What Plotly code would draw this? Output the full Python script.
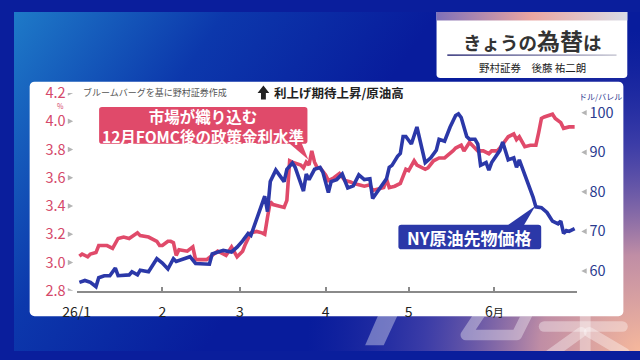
import base64
import plotly.graph_objects as go

# ---------------- data ----------------
rate_dates = [
    "2026-01-02", "2026-01-03", "2026-01-05", "2026-01-06", "2026-01-08", "2026-01-09", "2026-01-12", "2026-01-14",
    "2026-01-16", "2026-01-18", "2026-01-20", "2026-01-23", "2026-01-24", "2026-01-27", "2026-01-30", "2026-01-31",
    "2026-02-01", "2026-02-03", "2026-02-04", "2026-02-05", "2026-02-06", "2026-02-07", "2026-02-10", "2026-02-12",
    "2026-02-13", "2026-02-15", "2026-02-17", "2026-02-19", "2026-02-21", "2026-02-23", "2026-02-24", "2026-02-26",
    "2026-02-27", "2026-02-28",
    "2026-03-02", "2026-03-03", "2026-03-05", "2026-03-07", "2026-03-09", "2026-03-10", "2026-03-11", "2026-03-12",
    "2026-03-13", "2026-03-17", "2026-03-18", "2026-03-19", "2026-03-20", "2026-03-23", "2026-03-24", "2026-03-25",
    "2026-03-26", "2026-03-27", "2026-03-28", "2026-03-29", "2026-03-30",
    "2026-04-01", "2026-04-02", "2026-04-04", "2026-04-06", "2026-04-08", "2026-04-10", "2026-04-11", "2026-04-13",
    "2026-04-15", "2026-04-17", "2026-04-18", "2026-04-20", "2026-04-22", "2026-04-23", "2026-04-24", "2026-04-26",
    "2026-04-28", "2026-04-30",
    "2026-05-01", "2026-05-03", "2026-05-04", "2026-05-07", "2026-05-08", "2026-05-10", "2026-05-12", "2026-05-14",
    "2026-05-16", "2026-05-17", "2026-05-18", "2026-05-20", "2026-05-21", "2026-05-23", "2026-05-24", "2026-05-26",
    "2026-05-28", "2026-05-30", "2026-05-31",
    "2026-06-02", "2026-06-03", "2026-06-05", "2026-06-06", "2026-06-08", "2026-06-09", "2026-06-10", "2026-06-12",
    "2026-06-14", "2026-06-16", "2026-06-17", "2026-06-18", "2026-06-19", "2026-06-21", "2026-06-22", "2026-06-23",
    "2026-06-25", "2026-06-26", "2026-06-28", "2026-06-30",
]
rate_values = [
    3.045, 3.06, 3.04, 3.06, 3.07, 3.12, 3.12, 3.10, 3.17, 3.18, 3.17, 3.21, 3.19, 3.18, 3.15, 3.12,
    3.12, 3.15, 3.15, 3.14, 3.05, 3.09, 3.08, 3.11, 3.02, 3.02, 3.02, 3.05, 3.08, 3.06, 3.05, 3.11, 3.08, 3.04,
    3.08, 3.13, 3.21, 3.22, 3.21, 3.20, 3.32, 3.43, 3.41, 3.39, 3.44, 3.72, 3.71, 3.69, 3.67, 3.71, 3.69, 3.79,
    3.71, 3.67, 3.67,
    3.62, 3.58, 3.60, 3.63, 3.58, 3.57, 3.56, 3.55, 3.54, 3.55, 3.51, 3.52, 3.53, 3.59, 3.53, 3.54, 3.56, 3.66,
    3.65, 3.72, 3.69, 3.66, 3.67, 3.72, 3.74, 3.74, 3.77, 3.79, 3.81, 3.83, 3.79, 3.85, 3.83, 3.79, 3.79, 3.77, 3.79,
    3.79, 3.81, 3.87, 3.89, 3.91, 3.87, 3.89, 3.82, 3.83, 3.83, 3.92, 4.02, 4.03, 4.04, 4.05, 4.02, 3.99, 3.95,
    3.96, 3.96,
]

oil_dates = [
    "2026-01-02", "2026-01-04", "2026-01-06", "2026-01-08", "2026-01-09", "2026-01-11", "2026-01-13", "2026-01-15",
    "2026-01-16", "2026-01-18", "2026-01-20", "2026-01-21", "2026-01-23", "2026-01-24", "2026-01-27", "2026-01-30",
    "2026-02-01", "2026-02-03", "2026-02-05", "2026-02-06", "2026-02-08", "2026-02-10", "2026-02-11", "2026-02-13",
    "2026-02-17", "2026-02-18", "2026-02-19", "2026-02-23", "2026-02-26", "2026-02-28",
    "2026-03-02", "2026-03-04", "2026-03-05", "2026-03-07", "2026-03-08", "2026-03-10", "2026-03-11", "2026-03-12",
    "2026-03-14", "2026-03-17", "2026-03-18", "2026-03-20", "2026-03-21", "2026-03-24", "2026-03-25", "2026-03-26",
    "2026-03-28", "2026-03-30", "2026-03-31",
    "2026-04-02", "2026-04-03", "2026-04-05", "2026-04-07", "2026-04-09", "2026-04-11", "2026-04-13", "2026-04-15",
    "2026-04-17", "2026-04-18", "2026-04-20", "2026-04-23", "2026-04-24", "2026-04-25", "2026-04-27", "2026-04-28",
    "2026-04-29", "2026-04-30",
    "2026-05-02", "2026-05-04", "2026-05-07", "2026-05-09", "2026-05-11", "2026-05-12", "2026-05-14", "2026-05-16",
    "2026-05-18", "2026-05-19", "2026-05-20", "2026-05-22", "2026-05-23", "2026-05-25", "2026-05-26", "2026-05-27",
    "2026-05-29", "2026-05-30", "2026-05-31",
    "2026-06-03", "2026-06-04", "2026-06-05", "2026-06-06", "2026-06-08", "2026-06-09", "2026-06-10", "2026-06-12",
    "2026-06-14", "2026-06-15", "2026-06-16", "2026-06-18", "2026-06-20", "2026-06-22", "2026-06-24", "2026-06-25",
    "2026-06-26", "2026-06-27", "2026-06-28", "2026-06-30",
]
oil_values = [
    57.1, 57.6, 57.1, 56.0, 58.3, 58.8, 58.8, 60.7, 58.8, 58.8, 59.0, 59.8, 59.0, 60.2, 59.8, 63.1,
    62.0, 60.5, 63.1, 62.4, 62.9, 63.3, 63.6, 61.9, 61.9, 61.7, 64.3, 65.2, 64.8, 66.0,
    67.6, 69.5, 69.0, 73.1, 75.5, 78.9, 75.0, 82.6, 85.5, 82.6, 85.7, 87.3, 86.2, 80.2, 84.5, 83.1, 85.7, 86.2, 85.0,
    79.8, 82.6, 83.1, 84.5, 81.0, 81.5, 84.3, 83.1, 83.3, 78.3, 80.2, 83.3, 86.2, 86.7, 89.0, 89.7, 94.0, 94.0,
    92.1, 96.4, 87.4, 88.6, 90.5, 93.3, 92.8, 96.4, 99.3, 99.7, 98.8, 94.0, 93.3, 93.3, 92.1, 86.7, 87.4, 85.5, 87.4,
    90.5, 92.6, 90.2, 88.1, 88.6, 86.2, 88.1, 84.3, 81.0, 78.6, 76.2, 76.0, 74.8, 72.6, 71.9, 72.6, 69.5, 70.2,
    70.0, 70.7,
]

x_tick_dates = ["2026-01-01", "2026-02-01", "2026-03-01", "2026-04-01", "2026-05-01", "2026-06-01"]
x_tick_labels = ["26/1", "2", "3", "4", "5", "6<span style='font-size:11px'>月</span>"]
left_ticks = [2.8, 3.0, 3.2, 3.4, 3.6, 3.8, 4.0, 4.2]
right_ticks = [60, 70, 80, 90, 100]

FONT = "Noto Sans CJK JP, Noto Sans, sans-serif"
RED = "#e04a6a"
BLUE = "#2b38a8"
W, H = 640, 360
L_RANGE = [2.8, 4.2]
R_RANGE = [55, 105]
Y_TOP, Y_BOT = 86, 296


def X(p):
    return p / W


def Y(p):
    return 1 - p / H


def poly(points):
    return "M " + " L ".join(f"{X(a):.5f},{Y(b):.5f}" for a, b in points) + " Z"


def rrect(x0, y0, x1, y1, r):
    return (f"M {X(x0 + r):.5f},{Y(y0):.5f} L {X(x1 - r):.5f},{Y(y0):.5f} "
            f"Q {X(x1):.5f},{Y(y0):.5f} {X(x1):.5f},{Y(y0 + r):.5f} L {X(x1):.5f},{Y(y1 - r):.5f} "
            f"Q {X(x1):.5f},{Y(y1):.5f} {X(x1 - r):.5f},{Y(y1):.5f} L {X(x0 + r):.5f},{Y(y1):.5f} "
            f"Q {X(x0):.5f},{Y(y1):.5f} {X(x0):.5f},{Y(y1 - r):.5f} L {X(x0):.5f},{Y(y0 + r):.5f} "
            f"Q {X(x0):.5f},{Y(y0):.5f} {X(x0 + r):.5f},{Y(y0):.5f} Z")


# ---------------- background artwork (no text) ----------------
svg = """<svg xmlns='http://www.w3.org/2000/svg' width='640' height='360' viewBox='0 0 640 360'>
<defs>
<linearGradient id='a' x1='0' y1='0' x2='300' y2='200' gradientUnits='userSpaceOnUse'>
<stop offset='0' stop-color='#1e7ac8'/>
<stop offset='0.5' stop-color='#0c38ac'/>
<stop offset='1' stop-color='#081c9c'/>
</linearGradient>
<radialGradient id='b' cx='640' cy='360' r='340' gradientUnits='userSpaceOnUse'>
<stop offset='0' stop-color='#f6b89c' stop-opacity='1'/>
<stop offset='0.3' stop-color='#d49aa6' stop-opacity='0.9'/>
<stop offset='0.65' stop-color='#6e5cb2' stop-opacity='0.5'/>
<stop offset='1' stop-color='#3a3aa8' stop-opacity='0'/>
</radialGradient>
<linearGradient id='s' x1='0' y1='0' x2='1' y2='0'>
<stop offset='0' stop-color='#7f70b8'/><stop offset='0.5' stop-color='#eaa6a2'/><stop offset='1' stop-color='#d8dce6'/>
</linearGradient>
<linearGradient id='l' x1='0' y1='0' x2='1' y2='0'>
<stop offset='0' stop-color='#33337a'/><stop offset='1' stop-color='#c8c8d4'/>
</linearGradient>
</defs>
<rect width='640' height='360' fill='url(#a)'/>
<rect width='640' height='360' fill='url(#b)'/>
<g fill='#ffffff' fill-opacity='0.36'>
<polygon points='374,318 394,318 378,354 359,354'/>
</g>
<g stroke='#ffffff' stroke-opacity='0.36' stroke-width='11' fill='none' stroke-linecap='round'>
<polygon points='478,318 526,318 514,343 462,343' stroke-linejoin='round'/>
<line x1='542' y1='334' x2='622' y2='334'/>
<line x1='584' y1='316' x2='584' y2='366'/>
<line x1='580' y1='340' x2='548' y2='364'/>
<line x1='588' y1='340' x2='624' y2='362'/>
</g>
<rect x='16' y='74' width='607' height='249' rx='5' fill='#ffffff'/>
<path d='M432,0 H627 V66 Q627,70 623,70 H436 Q432,70 432,66 Z' fill='#ffffff'/>
<rect x='432' y='0' width='195' height='9' fill='url(#s)'/>
<rect x='443' y='45' width='173' height='1.6' fill='url(#l)'/>
</svg>"""
bg_src = "data:image/svg+xml;base64," + base64.b64encode(svg.encode("utf-8")).decode("ascii")

# ---------------- figure ----------------
fig = go.Figure()
fig.add_trace(go.Scatter(x=rate_dates, y=rate_values, mode="lines",
                         line=dict(color=RED, width=3.6), yaxis="y", hoverinfo="skip"))
fig.add_trace(go.Scatter(x=oil_dates, y=oil_values, mode="lines",
                         line=dict(color=BLUE, width=3.6), yaxis="y2", hoverinfo="skip"))

shapes = [
    dict(type="path", xref="paper", yref="paper", path=rrect(87, 101, 300, 140, 3),
         fillcolor=RED, line=dict(width=0)),
    dict(type="path", xref="paper", yref="paper", path=poly([(281, 139), (294, 139), (301, 157)]),
         fillcolor=RED, line=dict(width=0)),
    dict(type="path", xref="paper", yref="paper", path=rrect(393, 226, 539, 252, 3),
         fillcolor=BLUE, line=dict(width=0)),
    dict(type="path", xref="paper", yref="paper", path=poly([(504, 227), (521, 227), (533, 206)]),
         fillcolor=BLUE, line=dict(width=0)),
    dict(type="path", xref="paper", yref="paper",
         path=poly([(249, 86), (255, 78), (261, 86), (257.5, 86), (257.5, 93), (252.5, 93), (252.5, 86)]),
         fillcolor="#222222", line=dict(width=0)),
]

# small grey tick-marker triangles next to the axis labels (placed on the axes' own scales)
hl = 3 * (L_RANGE[1] - L_RANGE[0]) / (Y_BOT - Y_TOP)
hr = 3 * (R_RANGE[1] - R_RANGE[0]) / (Y_BOT - Y_TOP)
for v in left_ticks:
    shapes.append(dict(type="path", xref="paper", yref="y",
                       path=f"M {X(55):.5f},{v + hl:.5f} L {X(60.5):.5f},{v:.5f} L {X(55):.5f},{v - hl:.5f} Z",
                       fillcolor="#b4b4b4", line=dict(width=0)))
for v in right_ticks:
    shapes.append(dict(type="path", xref="paper", yref="y2",
                       path=f"M {X(585.5):.5f},{v + hr:.5f} L {X(580):.5f},{v:.5f} L {X(585.5):.5f},{v - hr:.5f} Z",
                       fillcolor="#b4b4b4", line=dict(width=0)))

annotations = [
    dict(text="ブルームバーグを基に野村証券作成", x=X(68), y=Y(86), xanchor="left", yanchor="middle",
         font=dict(size=9, color="#555555")),
    dict(text="<b>利上げ期待上昇/原油高</b>", x=X(264), y=Y(85), xanchor="left", yanchor="middle",
         font=dict(size=12.5, color="#222222")),
    dict(text="%", x=X(48), y=Y(99.5), xanchor="center", yanchor="middle",
         font=dict(size=7, color="#d5486a")),
    dict(text="ドル/バレル", x=X(600), y=Y(90), xanchor="center", yanchor="middle",
         font=dict(size=8, color="#2b3b8f")),
    dict(text="<b>市場が織り込む<br>12月FOMC後の政策金利水準</b>", x=X(193.5), y=Y(121),
         xanchor="center", yanchor="middle", font=dict(size=15.5, color="#ffffff")),
    dict(text="<b>NY原油先物価格</b>", x=X(466), y=Y(239.5), xanchor="center", yanchor="middle",
         font=dict(size=17, color="#ffffff")),
    dict(text="<b>きょうの<span style='font-size:23px'>為替</span>は</b>", x=X(530), y=Y(30),
         xanchor="center", yanchor="middle", font=dict(size=18.5, color="#333333")),
    dict(text="野村証券　後藤 祐二朗", x=X(530), y=Y(59), xanchor="center", yanchor="middle",
         font=dict(size=10.5, color="#222222")),
]
for a in annotations:
    a.update(xref="paper", yref="paper", showarrow=False)

fig.update_layout(
    width=W, height=H,
    margin=dict(l=0, r=0, t=0, b=0),
    paper_bgcolor="#0a1e9c",
    plot_bgcolor="rgba(0,0,0,0)",
    showlegend=False,
    font=dict(family=FONT),
    images=[dict(source=bg_src, xref="paper", yref="paper", x=0, y=1, sizex=1, sizey=1,
                 xanchor="left", yanchor="top", sizing="stretch", layer="below")],
    shapes=shapes,
    annotations=annotations,
    xaxis=dict(
        domain=[X(64), X(576)], type="date", range=["2026-01-01", "2026-07-01"],
        tickvals=x_tick_dates, ticktext=x_tick_labels,
        showgrid=False, zeroline=False, showline=True, linecolor="#8a8a8a", linewidth=2,
        ticks="inside", ticklen=4, tickcolor="#8a8a8a", tickwidth=1.5,
        tickfont=dict(size=14, color="#222222"), ticklabelstandoff=7, fixedrange=True,
    ),
    yaxis=dict(
        domain=[Y(Y_BOT), Y(Y_TOP)], range=L_RANGE,
        tickvals=left_ticks, ticktext=[f"{v:.1f}" for v in left_ticks],
        showgrid=False, zeroline=False, showline=False, ticks="",
        tickfont=dict(size=14.5, color="#d5486a"), ticklabelstandoff=10, fixedrange=True,
    ),
    yaxis2=dict(
        overlaying="y", side="right", anchor="x", range=R_RANGE,
        tickvals=right_ticks, ticktext=[str(v) for v in right_ticks],
        showgrid=False, zeroline=False, showline=False, ticks="",
        tickfont=dict(size=14.5, color="#2b3b8f"), ticklabelstandoff=11, fixedrange=True,
    ),
)

fig.write_html("out.html")
